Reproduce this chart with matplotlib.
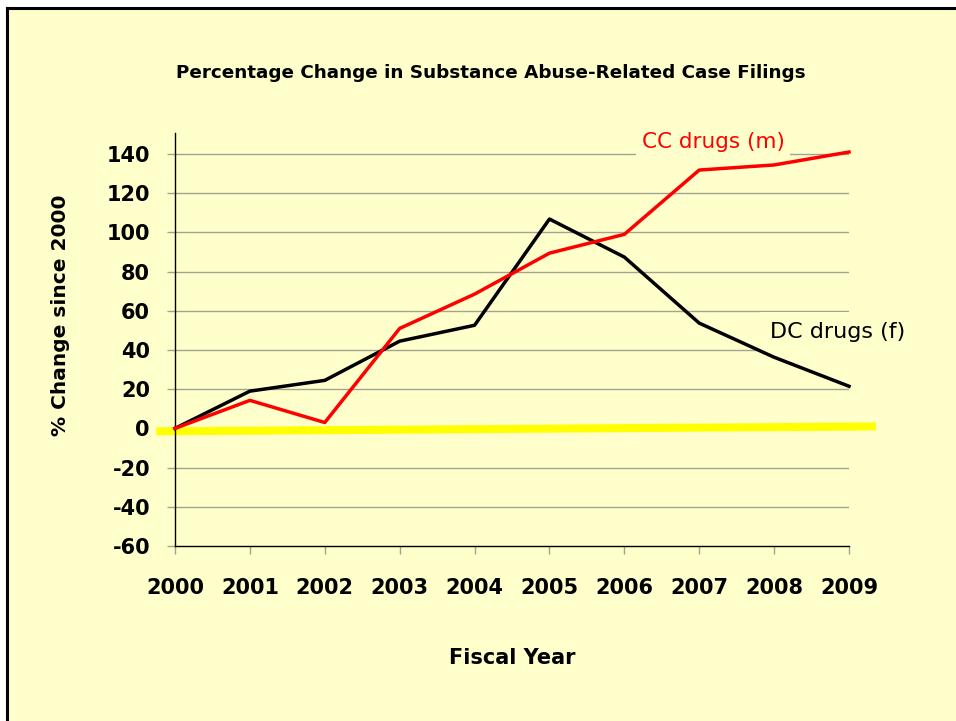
import matplotlib
matplotlib.use("Agg")
import matplotlib.pyplot as plt
from matplotlib.patches import Rectangle
from matplotlib.lines import Line2D

years = [2000, 2001, 2002, 2003, 2004, 2005, 2006, 2007, 2008, 2009]
cc_drugs = [0, 14.3, 3, 51, 68.5, 89.4, 99, 131.8, 134.4, 141]
dc_drugs = [0, 19, 24.5, 44.5, 52.6, 106.8, 87.4, 53.7, 36.3, 21.5]
baseline_x = [1999.75, 2009.36]
baseline_y = [-1.5, 1.0]
y_ticks = [-60, -40, -20, 0, 20, 40, 60, 80, 100, 120, 140]

W, H = 956, 721
fig = plt.figure(figsize=(W / 100, H / 100), dpi=100, facecolor="white")

# background panel with border
bg = "#FFFFCC"
fig.patches.append(Rectangle((8 / W, 0), 1, 1 - 8 / H, transform=fig.transFigure,
                             facecolor=bg, edgecolor="none", zorder=-10))
fig.lines.append(Line2D([7 / W, 1], [1 - 8 / H, 1 - 8 / H], transform=fig.transFigure,
                        color="black", lw=2.2, zorder=-5))
fig.lines.append(Line2D([7 / W, 7 / W], [0, 1 - 8 / H], transform=fig.transFigure,
                        color="black", lw=2.2, zorder=-5))

ax = fig.add_axes([175 / W, 1 - 546 / H, (849 - 175) / W, (546 - 133) / H])
ax.set_facecolor("none")
ax.set_xlim(2000, 2009)
ax.set_ylim(-60, 150.7)

grid_c = "#A3A38F"
for v in y_ticks:
    if v not in (0, -60):
        ax.axhline(v, color=grid_c, lw=1.0, zorder=1)

ax.plot(baseline_x, baseline_y, color="#FFFF00", lw=5.8, solid_capstyle="butt",
        clip_on=False, zorder=2)
ax.plot(years, dc_drugs, color="black", lw=2.5, zorder=3, clip_on=False)
ax.plot(years, cc_drugs, color="#FF0000", lw=2.5, zorder=4, clip_on=False)

for s in ["top", "right"]:
    ax.spines[s].set_visible(False)
ax.spines["left"].set_linewidth(1.0)
ax.spines["bottom"].set_linewidth(1.0)

ax.set_xticks(years)
ax.set_xticklabels([str(y) for y in years])
ax.set_yticks(y_ticks)
ax.set_yticklabels([str(v) for v in y_ticks])
ax.tick_params(axis="x", length=6, color=grid_c, width=1, pad=17,
               labelsize=15)
ax.tick_params(axis="y", length=6, color=grid_c, width=1, pad=12,
               labelsize=15)
for lab in ax.get_xticklabels() + ax.get_yticklabels():
    lab.set_fontweight("bold")

fig.text(491 / W, 1 - 73 / H, "Percentage Change in Substance Abuse-Related Case Filings",
         ha="center", va="center", fontsize=13.2, fontweight="bold")
fig.text(60 / W, 1 - 315 / H, "% Change since 2000", rotation=90,
         ha="center", va="center", fontsize=14.5, fontweight="bold")
fig.text(512 / W, 1 - 658 / H, "Fiscal Year", ha="center", va="center",
         fontsize=15, fontweight="bold")

ax.text(2006.23, 146, "CC drugs (m)", color="#FF0000", fontsize=15.5,
        ha="left", va="center", zorder=1.5,
        bbox=dict(boxstyle="square,pad=0.25", facecolor=bg, edgecolor="none"))
ax.text(2007.95, 49, "DC drugs (f)", color="black", fontsize=16,
        ha="left", va="center", zorder=1.5, clip_on=False,
        bbox=dict(boxstyle="square,pad=0.45", facecolor=bg, edgecolor="none"))

fig.savefig("out.png", dpi=100, facecolor="white")
